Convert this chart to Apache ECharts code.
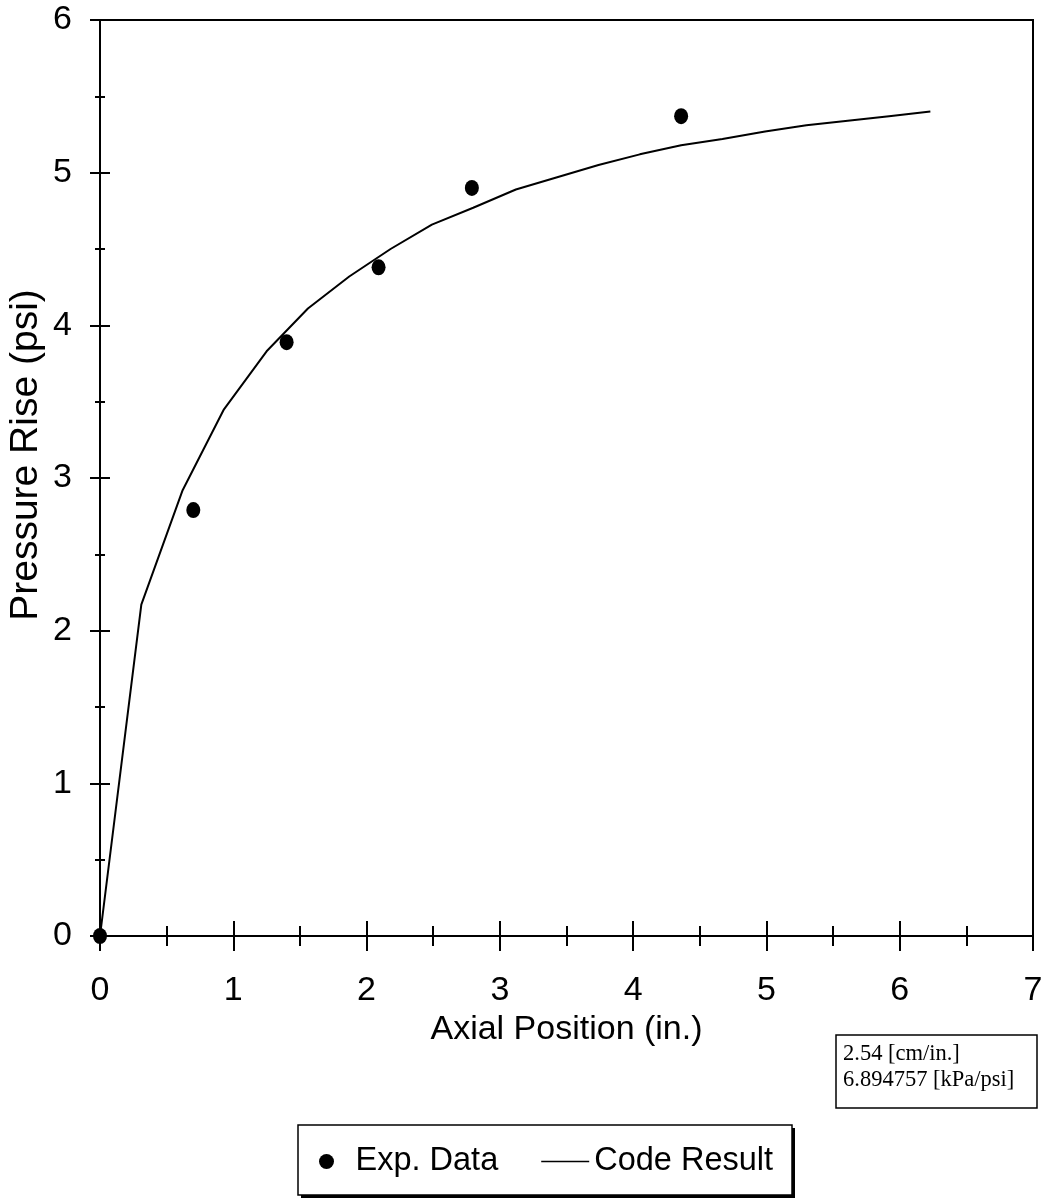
<!DOCTYPE html>
<html>
<head>
<meta charset="utf-8">
<script src="https://cdn.jsdelivr.net/npm/echarts@6/dist/echarts.min.js"></script>
<style>
html,body{margin:0;padding:0;background:#fff;}
#chart{width:1041px;height:1201px;}
</style>
</head>
<body>
<div id="chart"></div>
<script>
// Code Result (solid line)
var codeX = [0, 0.31, 0.62, 0.93, 1.25, 1.56, 1.87, 2.18, 2.49, 2.80, 3.12, 3.43, 3.74, 4.05, 4.36, 4.67, 4.99, 5.30, 5.61, 5.92, 6.23];
var codeY = [0, 2.17, 2.92, 3.45, 3.83, 4.11, 4.32, 4.50, 4.66, 4.77, 4.89, 4.97, 5.05, 5.12, 5.18, 5.22, 5.27, 5.31, 5.34, 5.37, 5.40];
// Exp. Data (filled dots)
var expX = [0, 0.70, 1.40, 2.09, 2.79, 4.36];
var expY = [0, 2.79, 3.89, 4.38, 4.90, 5.37];

var xTitle = 'Axial Position (in.)';
var yTitle = 'Pressure Rise (psi)';
var legendNames = ['Exp. Data', 'Code Result'];
var noteText = '2.54 [cm/in.]\n6.894757 [kPa/psi]';

var SANS = '"Liberation Sans", Arial, Helvetica, sans-serif';
var SERIF = '"Liberation Serif", "Times New Roman", serif';

function pairs(xs, ys) { return xs.map(function (x, i) { return [x, ys[i]]; }); }

var chart = echarts.init(document.getElementById('chart'), null, {renderer: 'canvas'});

var axisLineStyle = {color: '#000', width: 2};

chart.setOption({
  animation: false,
  backgroundColor: '#fff',
  grid: {left: 100, right: 8, top: 20, bottom: 265, show: true, borderColor: '#000', borderWidth: 2,
         backgroundColor: 'transparent', containLabel: false, outerBoundsMode: 'none'},
  xAxis: [
    {
      type: 'value', min: 0, max: 7, interval: 1, position: 'bottom',
      axisLine: {show: true, onZero: false, lineStyle: axisLineStyle},
      axisTick: {show: true, inside: false, length: 15, lineStyle: {color: '#000', width: 2}},
      minorTick: {show: true, splitNumber: 2, length: 10, lineStyle: {color: '#000', width: 2}},
      splitLine: {show: false},
      axisLabel: {show: true, margin: 38, color: '#000', fontSize: 34, fontFamily: SANS},
      name: xTitle, nameLocation: 'middle', nameGap: 74,
      nameTextStyle: {color: '#000', fontSize: 34, fontFamily: SANS}
    },
    {
      type: 'value', min: 0, max: 7, interval: 1, position: 'bottom',
      axisLine: {show: false, onZero: false},
      axisTick: {show: true, inside: true, length: 15, lineStyle: {color: '#000', width: 2}},
      minorTick: {show: true, splitNumber: 2, length: 10, lineStyle: {color: '#000', width: 2}},
      splitLine: {show: false},
      axisLabel: {show: false}
    }
  ],
  yAxis: [
    {
      type: 'value', min: 0, max: 6, interval: 1, position: 'left',
      axisLine: {show: true, onZero: false, lineStyle: axisLineStyle},
      axisTick: {show: true, inside: false, length: 10, lineStyle: {color: '#000', width: 2}},
      minorTick: {show: true, splitNumber: 2, length: 5, lineStyle: {color: '#000', width: 2}},
      splitLine: {show: false},
      axisLabel: {show: true, margin: 28, color: '#000', fontSize: 34, fontFamily: SANS}
    },
    {
      type: 'value', min: 0, max: 6, interval: 1, position: 'left',
      axisLine: {show: false, onZero: false},
      axisTick: {show: true, inside: true, length: 10, lineStyle: {color: '#000', width: 2}},
      minorTick: {show: true, splitNumber: 2, length: 5, lineStyle: {color: '#000', width: 2}},
      splitLine: {show: false},
      axisLabel: {show: false}
    }
  ],
  legend: {
    data: [
      {name: legendNames[0], icon: 'circle'},
      {name: legendNames[1], icon: 'path://M0,0H48V1.6H0Z'}
    ],
    left: 314, top: 1126,
    orient: 'horizontal',
    itemWidth: 48, itemHeight: 15, itemGap: 43,
    padding: [19, 19, 19, 5],
    textStyle: {color: '#000', fontSize: 32.5, fontFamily: SANS},
    selectedMode: false,
    z: 10
  },
  title: {
    text: noteText,
    left: 836, top: 1035,
    padding: [6, 23, 15, 7],
    borderColor: '#000', borderWidth: 1.5,
    backgroundColor: '#fff',
    textStyle: {color: '#000', fontSize: 22.5, fontWeight: 'normal', fontFamily: SERIF, lineHeight: 26}
  },
  graphic: [
    {
      type: 'text', x: 26, y: 455, rotation: Math.PI / 2,
      style: {text: yTitle, fontSize: 39, fontFamily: SANS, fill: '#000', align: 'center', verticalAlign: 'middle'}
    },
    {
      type: 'rect', z: 1,
      shape: {x: 301, y: 1128, width: 494, height: 70},
      style: {fill: '#000'}
    },
    {
      type: 'rect', z: 2,
      shape: {x: 298, y: 1125, width: 494, height: 70},
      style: {fill: '#fff', stroke: '#000', lineWidth: 1.5}
    }
  ],
  series: [
    {
      name: legendNames[1], type: 'line', xAxisIndex: 0, yAxisIndex: 0,
      data: pairs(codeX, codeY),
      symbol: 'none', smooth: false,
      lineStyle: {color: '#000', width: 2},
      itemStyle: {color: '#000'},
      z: 2
    },
    {
      name: legendNames[0], type: 'scatter', xAxisIndex: 0, yAxisIndex: 0,
      data: pairs(expX, expY),
      symbol: 'circle', symbolSize: [14, 16], clip: false,
      itemStyle: {color: '#000', opacity: 1},
      z: 3
    }
  ]
});
</script>
</body>
</html>
